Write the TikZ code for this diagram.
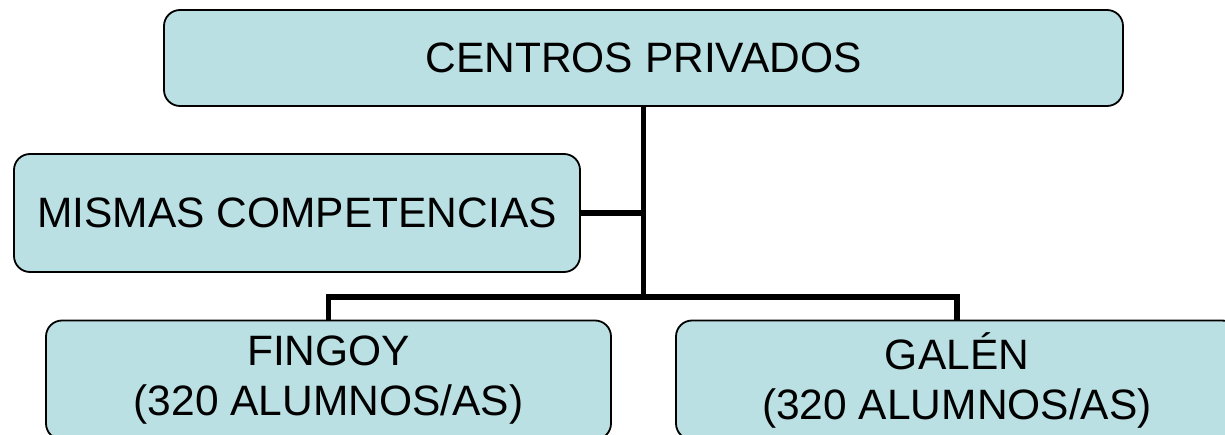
\documentclass[tikz,border=0pt]{standalone}
\usepackage{fontspec}
\setmainfont{Liberation Sans}
\definecolor{boxfill}{RGB}{186,224,227}
\begin{document}
\begin{tikzpicture}[x=1pt,y=-1pt,
  box/.style={draw=black, line width=1.8pt, fill=boxfill, rounded corners=16pt,
    inner sep=0pt, align=center, font=\fontsize{42.5}{50}\selectfont},
  conn/.style={line width=5.5pt}]
\useasboundingbox (0,0) rectangle (1225,435);
\clip (0,0) rectangle (1225,435);
\node[box, minimum width=959pt, minimum height=96pt] (top) at (643.5,58) {CENTROS PRIVADOS};
\node[box, minimum width=566pt, minimum height=118pt] (mis) at (297,213) {MISMAS COMPETENCIAS};
\node[box, minimum width=565pt, minimum height=119pt] (fin) at (328.5,380) {FINGOY\\(320 ALUMNOS/AS)};
\node[box, minimum width=562pt, minimum height=119pt] (gal) at (957,380) {GAL\'EN\\(320 ALUMNOS/AS)};
\coordinate (bar) at (643.5,297);
\draw[conn] (top.south) -- (bar);
\draw[conn] (fin.north) -- (fin.north |- bar) -- (gal.north |- bar) -- (gal.north);
\draw[conn] (mis.east) -- (mis.east -| top.south);
\end{tikzpicture}
\end{document}
